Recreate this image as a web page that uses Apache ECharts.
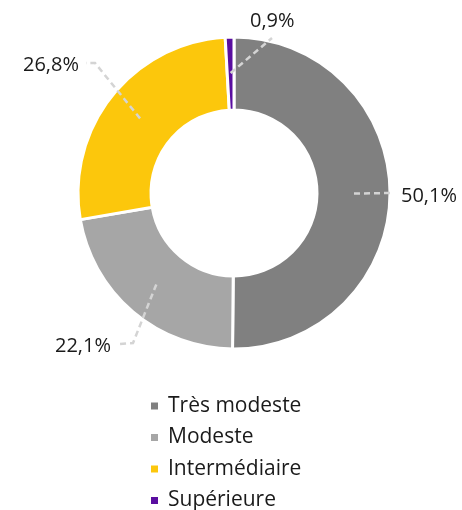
<!DOCTYPE html>
<html>
<head>
<meta charset="utf-8">
<script src="https://cdn.jsdelivr.net/npm/echarts@6/dist/echarts.min.js"></script>
<style>
  html, body { margin: 0; padding: 0; background: #fff; }
  #chart { width: 462px; height: 510px; }
</style>
</head>
<body>
<div id="chart"></div>
<script>
// categories and shares (%)
var categories = ['Très modeste', 'Modeste', 'Intermédiaire', 'Supérieure'];
var values = [50.1, 22.1, 26.8, 0.9];
var colors = ['#808080', '#a6a6a6', '#fcc70c', '#5a0ea0'];

// hand placed labels (as in the original): label anchor, leader bend, leader end
var labelAt = [[401, 196], [111, 346], [79, 65], [250, 21]];
var labelAlign = ['left', 'right', 'right', 'left'];
var bendAt = [[392, 193], [133, 343], [95, 63], [272, 38]];
var endAt = [[392, 193], [120, 344], [86, 63], [272, 38]];

var ringData = [];
var labelData = [];
for (var i = 0; i < categories.length; i++) {
  ringData.push({ name: categories[i], value: values[i], itemStyle: { color: colors[i] } });
  labelData.push({ name: 'lbl' + i, value: values[i] });
}

var myChart = echarts.init(document.getElementById('chart'));
var option = {
  animation: false,
  textStyle: { fontFamily: 'Open Sans' },
  legend: {
    data: categories,
    orient: 'vertical',
    left: 144,
    top: 390,
    height: 200,
    itemWidth: 9,
    itemHeight: 9,
    itemGap: 9.5,
    icon: 'rect',
    textStyle: { fontSize: 21, lineHeight: 22, color: '#1a1a1a', fontFamily: 'Open Sans', padding: [0, 0, 0, 4] },
    selectedMode: false
  },
  series: [
    {
      type: 'pie',
      center: [234, 193],
      radius: [83, 156],
      startAngle: 90,
      clockwise: true,
      silent: true,
      itemStyle: { borderColor: '#fff', borderWidth: 3 },
      label: { show: false },
      labelLine: { show: false },
      data: ringData
    },
    {
      type: 'pie',
      center: [234, 193],
      radius: [0, 120],
      startAngle: 90,
      clockwise: true,
      silent: true,
      z: 5,
      itemStyle: { color: 'rgba(0,0,0,0)' },
      avoidLabelOverlap: false,
      label: {
        show: true,
        formatter: function (p) { return p.value.toFixed(1).replace('.', ',') + '%'; },
        fontSize: 20,
        color: '#1a1a1a',
        fontFamily: 'Open Sans',
        overflow: 'none'
      },
      labelLine: {
        show: true,
        length: 30,
        length2: 8,
        lineStyle: { color: '#d4d4d4', width: 2.5, type: [6, 4] }
      },
      labelLayout: function (p) {
        var k = p.dataIndex;
        var start = p.labelLinePoints ? p.labelLinePoints[0] : bendAt[k];
        return {
          x: labelAt[k][0],
          y: labelAt[k][1],
          align: labelAlign[k],
          verticalAlign: 'middle',
          labelLinePoints: [start, bendAt[k], endAt[k]]
        };
      },
      data: labelData
    }
  ]
};
myChart.setOption(option);
</script>
</body>
</html>
